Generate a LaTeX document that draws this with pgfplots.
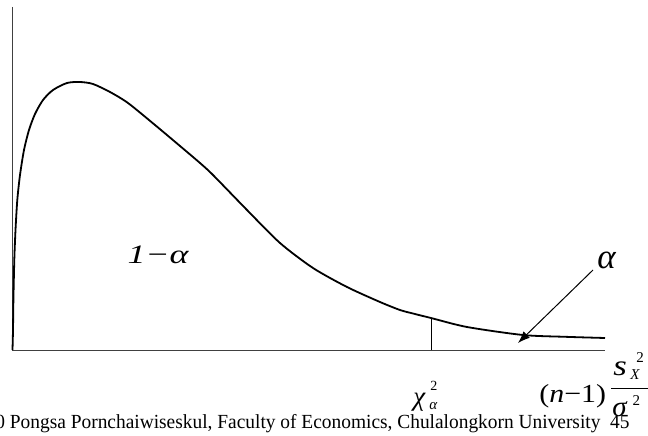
\documentclass[border=0pt]{standalone}
\usepackage{pgfplots}
\pgfplotsset{compat=1.18}
\usepackage{fontspec}
\setmainfont{Liberation Serif}
\usetikzlibrary{arrows.meta}
\begin{document}
\begin{tikzpicture}
\begin{axis}[scale only axis, width=324pt, height=217.5pt,
  xmin=0, xmax=648, ymin=-85, ymax=350, axis lines=none, clip=false]
% axes
\addplot[black!75, line width=0.5pt] coordinates {(12,343) (12,-0.5) (605,-0.5)};
% density curve
\addplot[black, line width=0.9pt, smooth, tension=0.45] coordinates {
(12.5,0) (13,20) (13.4,50) (14.3,90) (15.5,120) (17.3,150) (20,175) (24,200)
(29,220) (35,236) (43,250) (53,260) (67,267) (80,268) (93,266) (110,258)
(128,247) (155,225) (180,204) (200,187) (213,175) (247,140) (280,107) (313,82)
(347,63) (380,48) (400,40) (413,36.5) (431,32) (467,23) (523,15) (565,13.2) (605,12)};
% critical value line
\addplot[black, line width=0.5pt] coordinates {(431,0) (431,32)};
% arrow
\addplot[black, line width=0.5pt, -{Latex[length=6pt,width=4.5pt]}] coordinates {(593,80) (518,7)};
% fraction bar
\addplot[black, line width=0.5pt] coordinates {(611,-38) (648,-38)};
\node[anchor=base west, inner sep=0pt, xscale=1.35, font=\fontsize{13.3}{16}\selectfont\itshape] at (axis cs:127,87) {1−α};
\node[anchor=base west, inner sep=0pt, font=\fontsize{17.5}{20}\selectfont\itshape] at (axis cs:597,82) {α};
% chi^2_alpha
\node[anchor=base west, inner sep=0pt, font=\fontsize{13.5}{15}\selectfont] at (axis cs:413,-55)
  {\textit{χ}\kern1.75pt\rlap{\raisebox{-2pt}{\fontsize{7.5}{9}\selectfont\itshape α}}\kern0.5pt\raisebox{7.5pt}{\fontsize{7}{8}\selectfont 2}};
% (n-1) s^2_X / sigma^2
\node[anchor=base west, inner sep=0pt, xscale=1.15, font=\fontsize{13}{15}\selectfont] at (axis cs:539,-52) {(\textit{n}−1)};
\node[anchor=base west, inner sep=0pt, font=\fontsize{14.5}{16}\selectfont] at (axis cs:613,-25)
  {\scalebox{1.2}[1]{\textit{s}}\kern1.75pt\rlap{\raisebox{-2pt}{\fontsize{7.5}{9}\selectfont\itshape X}}\kern3pt\raisebox{6.5pt}{\fontsize{7.5}{9}\selectfont 2}};
\node[anchor=base west, inner sep=0pt, font=\fontsize{14.5}{16}\selectfont] at (axis cs:612,-66)
  {\textit{σ}\kern2.5pt\raisebox{5.5pt}{\fontsize{7.5}{9}\selectfont 2}};
% footer
\node[anchor=base west, inner sep=0pt, xscale=0.97, font=\fontsize{10}{12}\selectfont] at (axis cs:-5,-78) {0 Pongsa Pornchaiwiseskul, Faculty of Economics, Chulalongkorn University\ \ 45};
\end{axis}
\pgfresetboundingbox
\path[use as bounding box] (current axis.south west) rectangle (current axis.north east);
\end{tikzpicture}
\end{document}
